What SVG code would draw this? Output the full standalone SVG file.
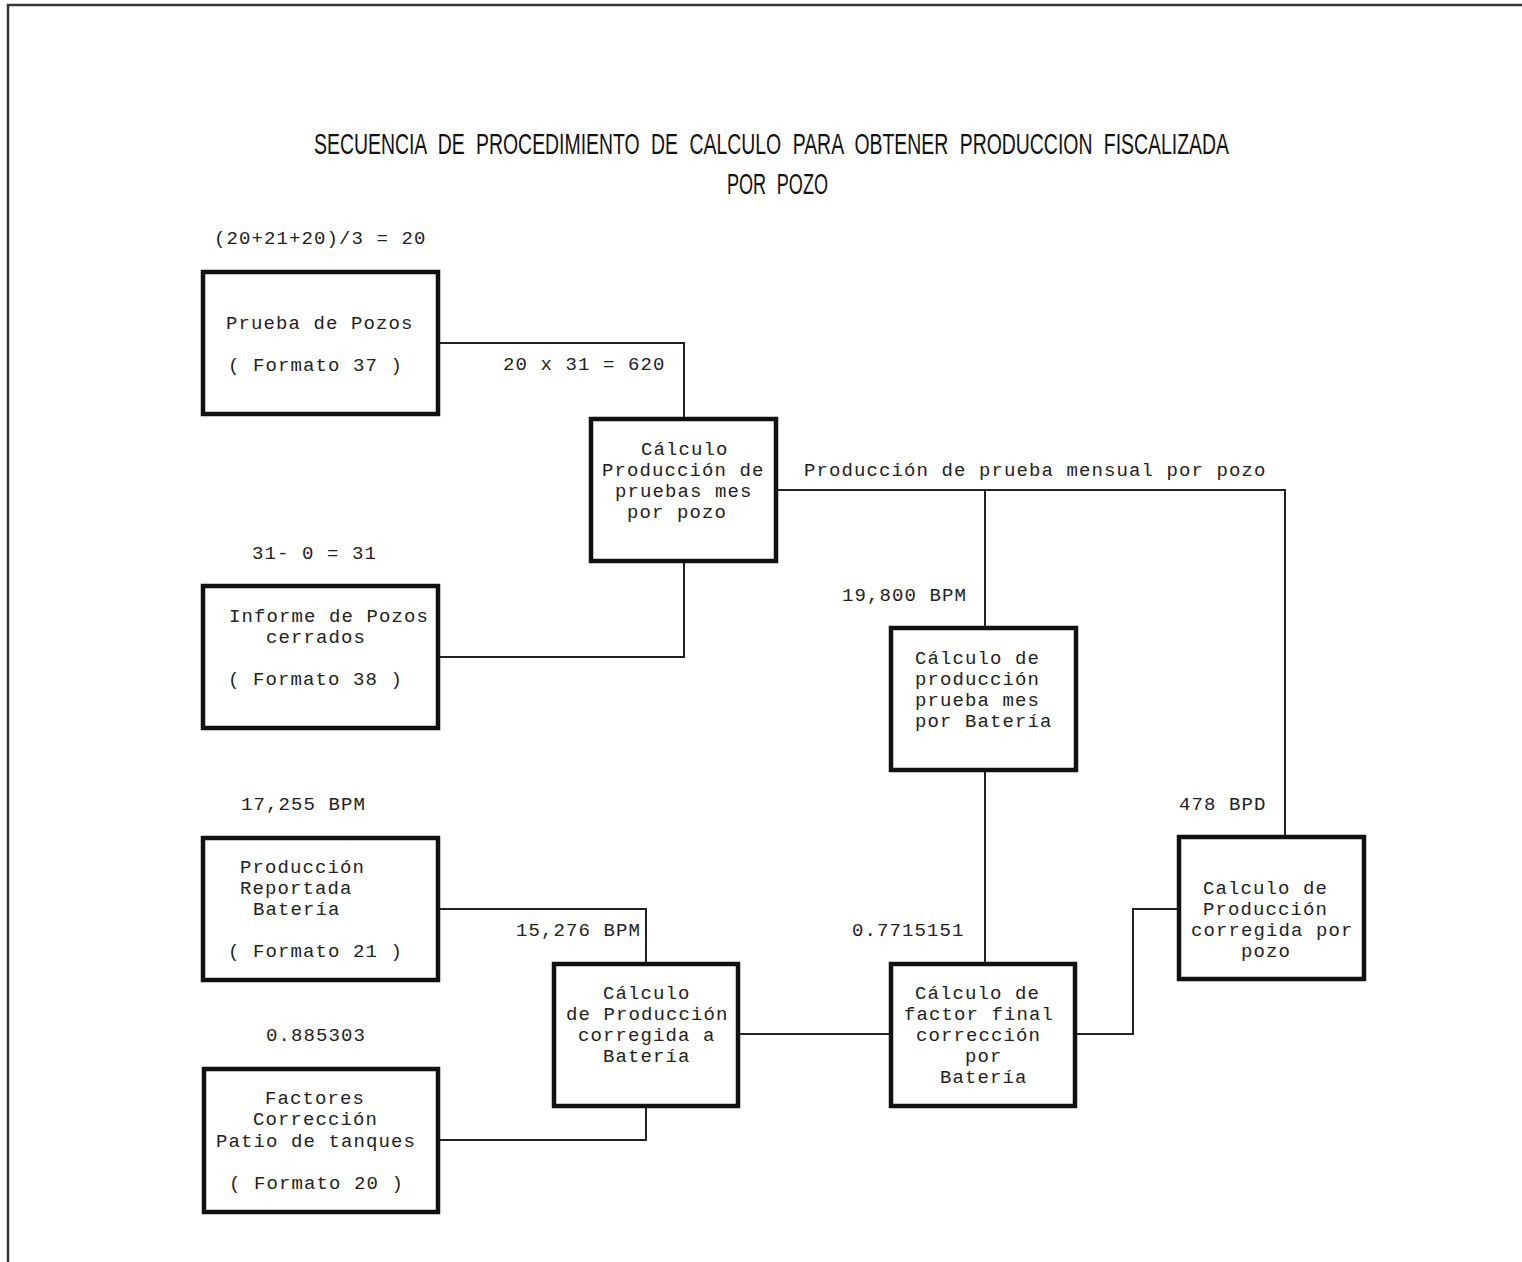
<svg xmlns="http://www.w3.org/2000/svg" width="1522" height="1262" viewBox="0 0 1522 1262">
<style>
.box{fill:#fff;stroke:#111;stroke-width:4.5}
.ln{fill:none;stroke:#222;stroke-width:2}
.t{font-family:"Liberation Mono","DejaVu Sans Mono",monospace;font-size:19px;letter-spacing:1.1px;fill:#222}
.title{font-family:"Liberation Sans","DejaVu Sans",sans-serif;font-size:29px;fill:#111;word-spacing:9px}
.border{fill:none;stroke:#3a3438;stroke-width:2.5}
</style>
<rect width="1522" height="1262" fill="#fff"/>
<path class="border" d="M8,1262 V5 H1522"/>
<g id="title">
<g transform="translate(314,154) scale(0.68,1)">
<text class="title" x="0" y="0" textLength="1345.6" lengthAdjust="spacingAndGlyphs">SECUENCIA DE PROCEDIMIENTO DE CALCULO PARA OBTENER PRODUCCION FISCALIZADA</text>
</g>
<g transform="translate(727,194) scale(0.68,1)">
<text class="title" x="0" y="0" textLength="148.5" lengthAdjust="spacingAndGlyphs">POR POZO</text>
</g>
</g>
<g id="connectors">
<path class="ln" d="M438,343 H684 V418"/>
<path class="ln" d="M684,561 V657 H438"/>
<path class="ln" d="M776,490 H1285 V837"/>
<path class="ln" d="M985,490 V628"/>
<path class="ln" d="M985,770 V963"/>
<path class="ln" d="M438,909 H646 V963"/>
<path class="ln" d="M438,1140 H646 V1106"/>
<path class="ln" d="M738,1034 H891"/>
<path class="ln" d="M1075,1034 H1133 V909 H1179"/>
</g>
<g id="labels">
<text class="t" x="214" y="244">(20+21+20)/3 = 20</text>
<text class="t" x="503" y="370">20 x 31 = 620</text>
<text class="t" x="804" y="476">Producción de prueba mensual por pozo</text>
<text class="t" x="252" y="559">31- 0 = 31</text>
<text class="t" x="842" y="601">19,800 BPM</text>
<text class="t" x="241" y="810">17,255 BPM</text>
<text class="t" x="1179" y="810">478 BPD</text>
<text class="t" x="516" y="936">15,276 BPM</text>
<text class="t" x="852" y="936">0.7715151</text>
<text class="t" x="266" y="1041">0.885303</text>
</g>
<g id="n-prueba-pozos">
<rect class="box" x="203" y="272" width="235" height="142"/>
<text class="t" x="226" y="329">Prueba de Pozos</text>
<text class="t" x="228" y="371">( Formato 37 )</text>
</g>
<g id="n-calc-pruebas">
<rect class="box" x="591" y="419" width="185" height="142"/>
<text class="t" x="641" y="455">Cálculo</text>
<text class="t" x="602" y="476">Producción de</text>
<text class="t" x="615" y="497">pruebas mes</text>
<text class="t" x="627" y="518">por pozo</text>
</g>
<g id="n-informe">
<rect class="box" x="203" y="586" width="235" height="142"/>
<text class="t" x="229" y="622">Informe de Pozos</text>
<text class="t" x="266" y="643">cerrados</text>
<text class="t" x="228" y="685">( Formato 38 )</text>
</g>
<g id="n-calc-bateria">
<rect class="box" x="891" y="628" width="185" height="142"/>
<text class="t" x="915" y="664">Cálculo de</text>
<text class="t" x="915" y="685">producción</text>
<text class="t" x="915" y="706">prueba mes</text>
<text class="t" x="915" y="727">por Batería</text>
</g>
<g id="n-prod-reportada">
<rect class="box" x="203" y="838" width="235" height="142"/>
<text class="t" x="240" y="873">Producción</text>
<text class="t" x="240" y="894">Reportada</text>
<text class="t" x="253" y="915">Batería</text>
<text class="t" x="228" y="957">( Formato 21 )</text>
</g>
<g id="n-calc-pozo">
<rect class="box" x="1179" y="837" width="185" height="142"/>
<text class="t" x="1203" y="894">Calculo de</text>
<text class="t" x="1203" y="915">Producción</text>
<text class="t" x="1191" y="936">corregida por</text>
<text class="t" x="1241" y="957">pozo</text>
</g>
<g id="n-calc-corregida">
<rect class="box" x="554" y="964" width="184" height="142"/>
<text class="t" x="603" y="999">Cálculo</text>
<text class="t" x="566" y="1020">de Producción</text>
<text class="t" x="578" y="1041">corregida a</text>
<text class="t" x="603" y="1062">Batería</text>
</g>
<g id="n-factor-final">
<rect class="box" x="891" y="964" width="184" height="142"/>
<text class="t" x="915" y="999">Cálculo de</text>
<text class="t" x="904" y="1020">factor final</text>
<text class="t" x="916" y="1041">corrección</text>
<text class="t" x="965" y="1062">por</text>
<text class="t" x="940" y="1083">Batería</text>
</g>
<g id="n-factores">
<rect class="box" x="204" y="1069" width="234" height="143"/>
<text class="t" x="265" y="1104">Factores</text>
<text class="t" x="253" y="1125">Corrección</text>
<text class="t" x="216" y="1147">Patio de tanques</text>
<text class="t" x="229" y="1189">( Formato 20 )</text>
</g>
</svg>
